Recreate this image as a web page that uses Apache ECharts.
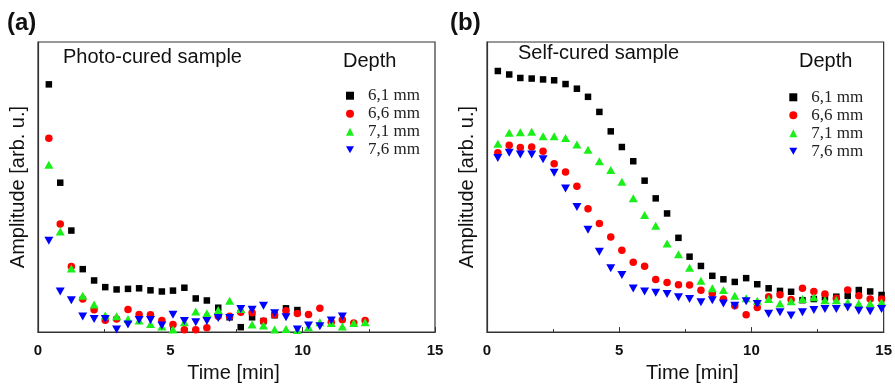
<!DOCTYPE html>
<html>
<head>
<meta charset="utf-8">
<script src="https://cdn.jsdelivr.net/npm/echarts@6/dist/echarts.min.js"></script>
<style>
  html, body { margin: 0; padding: 0; background: #fff; }
  #chart { width: 895px; height: 388px; }
</style>
</head>
<body>
<div id="chart"></div>
<script>
// time of each measurement [min]
const time = [0.41, 0.84, 1.26, 1.69, 2.12, 2.54, 2.97, 3.40, 3.82, 4.25, 4.68, 5.10, 5.53, 5.96, 6.38, 6.81, 7.24, 7.66, 8.09, 8.52, 8.94, 9.37, 9.80, 10.22, 10.65, 11.08, 11.50, 11.93, 12.36, 12.78, 13.21, 13.64, 14.06, 14.49, 14.92]
const depths = ['6,1 mm', '6,6 mm', '7,1 mm', '7,6 mm']
const xTicks = [0, 5, 10, 15]

// (a) photo-cured
const photo61 = [85.4, 51.5, 35.0, 21.7, 17.8, 15.5, 14.7, 14.9, 15.1, 14.4, 14.0, 14.3, 15.3, 11.6, 10.9, 8.4, 5.1, 1.7, 5.1, 3.8, 5.8, 8.2, 7.6]
const photo66 = [66.8, 37.3, 22.6, 11.4, 7.7, 4.1, 4.5, 7.8, 6.1, 6.0, 4.0, 2.6, 0.8, 0.8, 1.5, 5.5, 5.5, 6.8, 6.7, 3.8, 6.0, 7.4, 6.4, 6.1, 8.2, 3.4, 4.3, 3.1, 4.0]
const photo71 = [57.7, 34.7, 21.9, 12.5, 9.5, 5.7, 5.5, 4.5, 4.0, 2.8, 1.9, 0.9, 3.4, 7.1, 6.5, 7.6, 10.8, 8.0, 2.6, 2.3, 0.9, 1.1, 0.7, 1.7, 3.4, 3.1, 1.9, 3.1, 3.4]
const photo76 = [31.5, 14.0, 11.0, 5.4, 4.5, 4.5, 0.9, 2.6, 4.2, 4.2, 2.3, 6.0, 3.8, 3.4, 3.8, 4.9, 4.9, 8.0, 7.7, 9.1, 6.5, 5.1, 0.9, 2.3, 2.0, 4.0, 5.4]

// (b) self-cured
const self61 = [90.0, 88.8, 87.6, 87.4, 87.1, 86.8, 85.5, 83.9, 81.1, 75.9, 69.2, 63.8, 58.9, 52.2, 46.1, 40.9, 32.5, 26.0, 22.8, 19.4, 18.2, 17.3, 18.6, 16.5, 15.1, 14.2, 13.9, 11.0, 11.4, 12.0, 12.2, 12.5, 14.5, 14.0, 12.8]
const self66 = [61.8, 64.4, 63.6, 63.8, 62.3, 58.0, 55.2, 50.3, 42.5, 37.4, 32.8, 28.2, 24.1, 22.7, 18.1, 17.1, 16.3, 16.2, 14.4, 13.3, 11.4, 9.1, 6.0, 8.5, 12.2, 12.9, 11.2, 15.1, 14.0, 13.1, 11.7, 14.5, 12.5, 11.4, 11.4]
const self71 = [64.9, 68.7, 68.9, 69.1, 67.5, 67.5, 66.9, 64.7, 62.9, 58.9, 55.9, 51.8, 46.1, 40.4, 36.7, 30.5, 26.8, 22.2, 17.7, 15.1, 14.5, 12.5, 11.7, 10.8, 11.4, 9.9, 10.6, 11.4, 12.0, 11.0, 11.0, 10.3, 9.9, 9.9, 10.3]
const self76 = [60.0, 61.8, 61.2, 61.2, 59.6, 54.9, 49.5, 43.1, 35.3, 27.7, 22.0, 19.7, 15.0, 14.0, 13.6, 13.1, 12.0, 11.4, 10.3, 11.0, 9.9, 9.1, 10.6, 9.7, 6.3, 6.8, 5.7, 6.8, 7.6, 8.0, 8.0, 8.5, 7.4, 7.2, 8.0]

const sans = 'Liberation Sans'
const axisColor = '#333'
const markers = [
  { symbol: 'rect', size: 6.5, color: '#000000' },
  { symbol: 'circle', size: 7.5, color: '#ff0000' },
  { symbol: 'triangle', size: [9, 8], color: '#1aef1a' },
  { symbol: 'path://M0,0L10,0L5,8.66Z', size: [9, 8], color: '#0000ff' },
]

const pts = (ys) => ys.map((v, i) => [time[i], v])

const makeSeries = (sets, idx) => sets.map((ys, k) => ({
  type: 'scatter',
  name: depths[k],
  xAxisIndex: idx,
  yAxisIndex: idx,
  data: pts(ys),
  symbol: markers[k].symbol,
  symbolSize: markers[k].size,
  itemStyle: { color: markers[k].color, opacity: 1 },
  emphasis: { disabled: true },
}))

const xAxis = (idx) => ({
  gridIndex: idx,
  type: 'value',
  min: xTicks[0],
  max: xTicks[xTicks.length - 1],
  interval: xTicks[1] - xTicks[0],
  name: 'Time [min]',
  nameLocation: 'middle',
  nameGap: 30,
  nameTextStyle: { fontFamily: sans, fontSize: 20, color: '#111', padding: idx ? [0, 0, 0, 14] : [0, 6, 0, 0] },
  axisLine: { lineStyle: { color: axisColor, width: 1.2 } },
  axisTick: { inside: true, length: 5, lineStyle: { color: axisColor } },
  minorTick: { show: true, splitNumber: 2, length: 3, lineStyle: { color: axisColor } },
  axisLabel: { fontFamily: sans, fontSize: 15, fontWeight: 'bold', color: '#111', margin: 11 },
  splitLine: { show: false },
})

const yAxis = (idx) => ({
  gridIndex: idx,
  type: 'value',
  min: 0,
  max: 100,
  name: 'Amplitude [arb. u.]',
  nameLocation: 'middle',
  nameGap: 10,
  nameTextStyle: { fontFamily: sans, fontSize: 20, color: '#111' },
  axisLine: { show: true, lineStyle: { color: axisColor, width: 1.2 } },
  axisTick: { show: false },
  axisLabel: { show: false },
  splitLine: { show: false },
})

const legend = (left, top) => ({
  orient: 'vertical',
  left: left,
  top: top,
  data: depths,
  itemWidth: 8,
  itemHeight: 8,
  itemGap: 0,
  selectedMode: false,
  itemStyle: { opacity: 1 },
  textStyle: { fontFamily: 'Liberation Serif', fontSize: 17, lineHeight: 18, color: '#222', padding: [0, 0, 0, 9] },
})

const label = (text, x, y, size, weight) => ({
  type: 'text',
  left: x,
  top: y,
  style: { text, fontFamily: sans, fontSize: size, fontWeight: weight || 'normal', fill: '#111' },
})

const chart = echarts.init(document.getElementById('chart'))
chart.setOption({
  animation: false,
  grid: [
    { left: 38, top: 42, width: 397, height: 293, show: true, borderColor: axisColor, borderWidth: 1.2 },
    { left: 487, top: 42, width: 397, height: 293, show: true, borderColor: axisColor, borderWidth: 1.2 },
  ],
  xAxis: [xAxis(0), xAxis(1)],
  yAxis: [yAxis(0), yAxis(1)],
  legend: [legend(341, 81.7), legend(784.3, 83.3)],
  graphic: [
    label('(a)', 7, 11, 24, 'bold'),
    label('(b)', 450, 11, 24, 'bold'),
    label('Photo-cured sample', 63, 47, 20),
    label('Self-cured sample', 518, 43, 20),
    label('Depth', 343, 51, 20),
    label('Depth', 799, 51, 20),
  ],
  series: [
    ...makeSeries([photo61, photo66, photo71, photo76], 0),
    ...makeSeries([self61, self66, self71, self76], 1),
  ],
})
</script>
</body>
</html>
